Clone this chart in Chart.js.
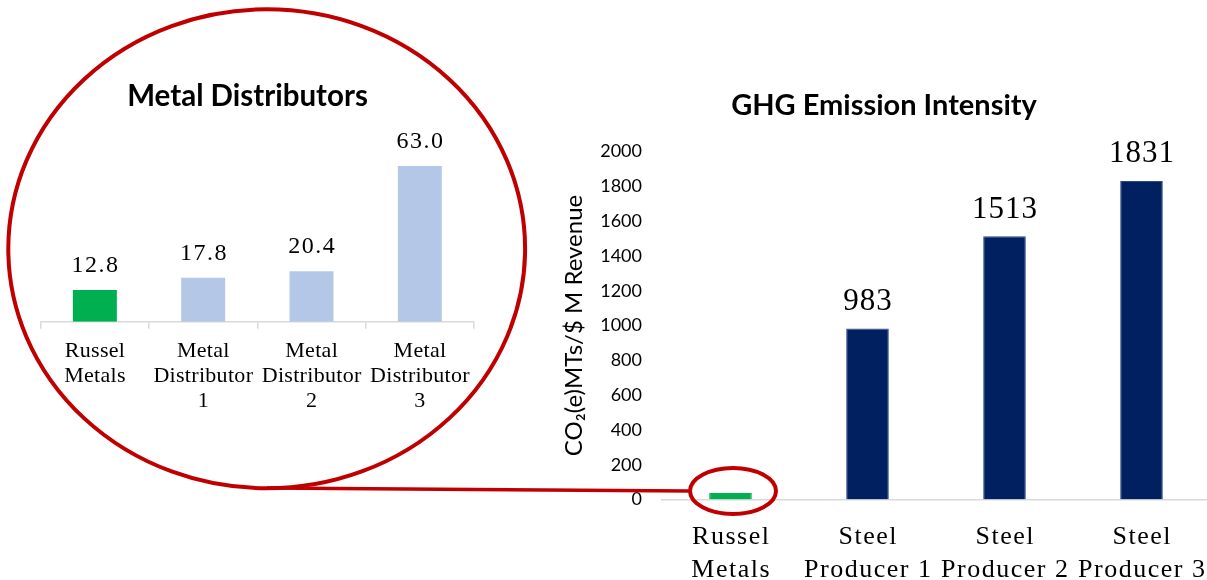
<!DOCTYPE html>
<html><head><meta charset="utf-8">
<script src="https://cdn.jsdelivr.net/npm/chart.js@4.4.0/dist/chart.umd.min.js"></script>
<style>
html,body{margin:0;padding:0;background:#fff;width:1207px;height:580px;overflow:hidden;position:relative;}
.wrap{position:absolute;top:0;}
svg{position:absolute;left:0;top:0;pointer-events:none;}
</style></head><body>
<div class="wrap" style="left:0;width:500px;height:440px"><canvas id="c1" width="500" height="440"></canvas></div>
<div class="wrap" style="left:540px;width:680px;height:580px"><canvas id="c2" width="680" height="580"></canvas></div>
<svg width="1207" height="580">
  <ellipse cx="266.7" cy="248.8" rx="258.4" ry="239.5" fill="none" stroke="#C00000" stroke-width="4"/>
  <line x1="267" y1="488" x2="690" y2="491" stroke="#C00000" stroke-width="3.5"/>
  <ellipse cx="733" cy="491" rx="43" ry="23" fill="none" stroke="#C00000" stroke-width="4"/>
</svg>
<script>
// ---- data ----
const distTitle = 'Metal Distributors';
const distCategories = [['Russel','Metals'],['Metal','Distributor','1'],['Metal','Distributor','2'],['Metal','Distributor','3']];
const distValues = [12.8, 17.8, 20.4, 63.0];
const distColors = ['#00B050','#B4C7E7','#B4C7E7','#B4C7E7'];

const ghgTitle = 'GHG Emission Intensity';
const ghgAxisTitle = 'CO\u2082(e)MTs/$ M Revenue';
const ghgCategories = [['Russel','Metals'],['Steel','Producer 1'],['Steel','Producer 2'],['Steel','Producer 3']];
const ghgValues = [38, 983, 1513, 1831];
const ghgValueLabels = ['', '983', '1513', '1831'];
const ghgColors = ['#00B050','#002060','#002060','#002060'];
const ghgYTicks = [0,200,400,600,800,1000,1200,1400,1600,1800,2000];

Chart.defaults.color = '#000';
Chart.defaults.font.family = 'Lato';

function catLabelPlugin(o){
  return {id:'catLabels', afterDraw(chart){
    const ctx = chart.ctx, xs = chart.scales.x;
    ctx.save();
    ctx.font = o.font; ctx.fillStyle = '#000';
    ctx.textAlign = 'center'; ctx.textBaseline = 'alphabetic';
    if ('letterSpacing' in ctx) ctx.letterSpacing = o.ls + 'px';
    chart.data.labels.forEach((lines, i) => {
      const x = xs.getPixelForValue(i) + o.ls/2;
      lines.forEach((t, j) => ctx.fillText(t, x, xs.top + o.first + j*o.lh));
    });
    ctx.restore();
  }};
}
function valueLabelPlugin(o){
  return {id:'valLabels', afterDatasetsDraw(chart){
    const ctx = chart.ctx, meta = chart.getDatasetMeta(0);
    ctx.save();
    ctx.font = o.font; ctx.fillStyle = '#000';
    ctx.textAlign = 'center'; ctx.textBaseline = 'alphabetic';
    if ('letterSpacing' in ctx) ctx.letterSpacing = o.ls + 'px';
    meta.data.forEach((bar, i) => {
      const t = o.text[i]; if (!t) return;
      ctx.fillText(t, bar.x + o.ls/2, bar.y - o.gap);
    });
    ctx.restore();
  }};
}

// ---- left chart ----
new Chart(document.getElementById('c1'), {
  type: 'bar',
  data: { labels: distCategories, datasets: [{ data: distValues, backgroundColor: distColors, borderWidth: 0, categoryPercentage: 1, barPercentage: 0.406 }] },
  options: {
    responsive: false, animation: false,
    layout: { padding: { left: 21, right: 26, top: 0, bottom: 0 } },
    plugins: {
      legend: { display: false }, tooltip: { enabled: false },
      title: { display: true, text: distTitle, color: '#000', font: { family: 'Lato', size: 29.5, weight: 'bold', lineHeight: 1.2 }, padding: { top: 78.3, bottom: 35.1 } }
    },
    scales: {
      x: {
        grid: { display: true, drawOnChartArea: false, drawTicks: true, tickLength: 7, offset: true, color: '#D9D9D9', lineWidth: 1.5 },
        border: { display: true, color: '#D9D9D9', width: 1.5 },
        ticks: { display: false },
        afterFit: s => { s.height = 440 - 321.7; }
      },
      y: {
        min: 0, max: 70,
        grid: { display: false, drawTicks: false },
        border: { display: false },
        ticks: { display: false },
        afterFit: s => { s.width = 19.7; }
      }
    }
  },
  plugins: [
    catLabelPlugin({ font: '22px "Liberation Serif"', ls: 0.3, first: 35.6, lh: 25 }),
    valueLabelPlugin({ font: '24px "Liberation Serif"', ls: 1.5, gap: 18, text: distValues.map(v => v.toFixed(1)) })
  ]
});

// ---- right chart ----
new Chart(document.getElementById('c2'), {
  type: 'bar',
  data: { labels: ghgCategories, datasets: [{ data: ghgValues, backgroundColor: ghgColors, borderColor: ['#00B050','#2E4A85','#2E4A85','#2E4A85'], borderWidth: 1, categoryPercentage: 1, barPercentage: 0.311 }] },
  options: {
    responsive: false, animation: false,
    layout: { padding: { left: 18, right: 10, top: 0, bottom: 0 } },
    plugins: {
      legend: { display: false }, tooltip: { enabled: false },
      title: { display: true, text: ghgTitle, color: '#000', font: { family: 'Lato', size: 29, weight: 'bold', lineHeight: 1.2 }, padding: { top: 88.4, bottom: 28.3 } }
    },
    scales: {
      x: {
        grid: { display: false, drawTicks: false },
        border: { display: true, color: '#D9D9D9', width: 1.5 },
        ticks: { display: false },
        afterFit: s => { s.height = 580 - 499.5; }
      },
      y: {
        min: 0, max: 2000,
        afterBuildTicks: s => { s.ticks = ghgYTicks.map(v => ({ value: v })); },
        grid: { display: false, drawTicks: false },
        border: { display: false },
        ticks: { padding: 20, color: '#000', font: { family: 'Lato', size: 18 }, callback: v => String(v) },
        title: { display: true, text: ghgAxisTitle, color: '#000', font: { family: 'Lato', size: 24, lineHeight: 1.2 }, padding: { top: 1.6, bottom: 0 } },
        afterFit: s => { s.width = 104; }
      }
    }
  },
  plugins: [
    catLabelPlugin({ font: '26px "Liberation Serif"', ls: 1.5, first: 44.5, lh: 33.4 }),
    valueLabelPlugin({ font: '31px "Liberation Serif"', ls: 1, gap: 18.5, text: ghgValueLabels })
  ]
});
</script>
</body></html>
